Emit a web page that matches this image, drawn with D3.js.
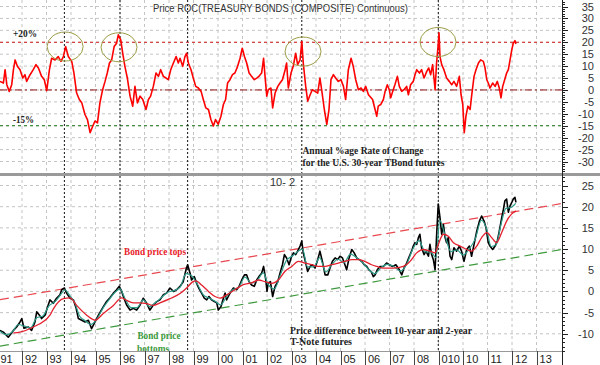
<!DOCTYPE html>
<html>
<head>
<meta charset="utf-8">
<script src="https://cdn.jsdelivr.net/npm/d3@7"></script>
<style>
  body { margin: 0; background: #fff; }
  svg { display: block; }
</style>
</head>
<body>
<div id="chart"></div>
<script>
// annual % rate of change, 30-year T-Bond futures  [year, %]
const rocData = [
  [1991.10, 3.6], [1991.24, 2.9], [1991.31, 8.5], [1991.38, 2.2], [1991.48, -0.6], [1991.58, 2.2],
  [1991.65, 8.5], [1991.72, 12.6], [1991.81, 9.9], [1991.92, 8.5], [1992.03, 5.0], [1992.12, 6.4],
  [1992.19, 3.6], [1992.33, 6.4], [1992.46, 8.5], [1992.57, 10.6], [1992.67, 9.2], [1992.80, 5.7],
  [1992.91, 4.3], [1993.01, -0.3], [1993.12, 8.5], [1993.21, 13.3], [1993.35, 12.6], [1993.48, 14.0],
  [1993.59, 12.0], [1993.69, 14.0], [1993.78, 18.2], [1993.89, 14.0], [1994.03, 12.0], [1994.12, 7.1],
  [1994.23, -1.3], [1994.34, -4.0], [1994.44, -5.4], [1994.57, -10.3], [1994.67, -12.4], [1994.78, -17.9],
  [1994.89, -15.1], [1994.98, -13.0], [1995.08, -13.8], [1995.18, -5.4], [1995.29, 0.1], [1995.39, 3.6],
  [1995.48, 7.1], [1995.57, 11.3], [1995.66, 12.6], [1995.76, 18.2], [1995.86, 19.6], [1995.93, 23.1],
  [1996.03, 21.0], [1996.11, 15.4], [1996.20, 9.9], [1996.30, 5.0], [1996.41, -2.6], [1996.52, -6.8],
  [1996.61, 1.5], [1996.71, -5.4], [1996.82, -2.6], [1996.93, -4.0], [1997.06, -8.2], [1997.16, -4.0],
  [1997.25, -2.6], [1997.36, 1.5], [1997.47, 7.1], [1997.57, 5.7], [1997.66, 8.5], [1997.77, 5.7],
  [1997.88, 5.0], [1997.97, 4.3], [1998.07, 8.5], [1998.18, 11.3], [1998.29, 14.0], [1998.38, 11.3],
  [1998.45, 13.3], [1998.56, 9.9], [1998.65, 14.0], [1998.72, 15.4], [1998.79, 11.3], [1998.90, 8.5],
  [1998.99, 5.0], [1999.09, 1.5], [1999.20, 0.8], [1999.31, -0.6], [1999.40, -4.0], [1999.50, -7.5],
  [1999.61, -8.2], [1999.71, -12.4], [1999.81, -15.1], [1999.90, -12.4], [2000.01, -14.4], [2000.12, -11.0],
  [2000.22, -6.1], [2000.31, -4.0], [2000.39, 2.9], [2000.49, 4.3], [2000.59, 6.4], [2000.69, 7.1],
  [2000.80, 9.9], [2000.90, 13.3], [2000.99, 17.5], [2001.08, 14.0], [2001.17, 11.3], [2001.27, 7.1],
  [2001.37, 5.7], [2001.48, 4.3], [2001.58, 5.0], [2001.67, 5.7], [2001.78, 7.1], [2001.86, 13.3],
  [2001.92, 5.7], [2001.99, -2.6], [2002.05, 0.1], [2002.16, 0.8], [2002.23, -7.5], [2002.33, -1.3],
  [2002.44, 1.5], [2002.53, 2.9], [2002.63, 4.3], [2002.74, 8.5], [2002.80, 11.3], [2002.87, 0.8],
  [2002.98, 7.1], [2003.07, 9.9], [2003.17, 15.4], [2003.25, 10.6], [2003.35, 12.6], [2003.42, 20.3],
  [2003.48, 11.3], [2003.58, 1.5], [2003.66, -4.7], [2003.76, -2.0], [2003.85, 0.1], [2003.96, -0.6],
  [2004.07, -1.3], [2004.16, 5.0], [2004.23, 0.1], [2004.34, -8.2], [2004.44, -14.4], [2004.53, -8.2],
  [2004.61, 4.3], [2004.71, 6.4], [2004.80, 5.0], [2004.91, 3.6], [2005.02, 4.3], [2005.12, 1.5],
  [2005.21, -4.0], [2005.32, 8.5], [2005.43, 13.3], [2005.52, 9.9], [2005.62, 4.3], [2005.73, 0.1],
  [2005.84, 0.8], [2005.93, -0.6], [2006.03, 1.5], [2006.14, -2.0], [2006.31, -4.0], [2006.41, -8.2],
  [2006.48, -11.0], [2006.54, -6.8], [2006.64, -6.1], [2006.75, -4.0], [2006.82, -0.6], [2006.91, 2.2],
  [2006.99, 0.1], [2007.05, -3.3], [2007.13, -0.6], [2007.22, 2.2], [2007.32, 5.7], [2007.40, 1.5],
  [2007.50, -0.6], [2007.59, 0.1], [2007.70, 1.5], [2007.77, -2.0], [2007.86, 2.2], [2007.97, 3.6],
  [2008.04, 6.4], [2008.11, 8.5], [2008.22, 7.1], [2008.31, 8.5], [2008.41, 5.0], [2008.52, 7.8],
  [2008.60, 9.2], [2008.68, 6.4], [2008.76, 10.6], [2008.86, 0.1], [2008.92, 11.3], [2008.98, 18.2],
  [2009.02, 24.0], [2009.06, 14.0], [2009.13, 10.6], [2009.22, 8.5], [2009.33, 5.0], [2009.44, 3.6],
  [2009.54, 2.2], [2009.63, 3.6], [2009.74, 1.5], [2009.85, 5.7], [2009.92, -2.0], [2009.99, -6.1],
  [2010.05, -17.9], [2010.12, -11.0], [2010.20, -6.8], [2010.29, -8.2], [2010.35, -2.6], [2010.45, 5.7],
  [2010.53, 8.5], [2010.63, 11.3], [2010.72, 12.6], [2010.83, 12.0], [2010.90, 9.2], [2010.97, 4.3],
  [2011.03, 2.9], [2011.10, 0.8], [2011.21, 2.9], [2011.31, 1.5], [2011.40, 3.6], [2011.48, 0.8],
  [2011.55, -3.3], [2011.62, 1.5], [2011.70, 4.3], [2011.78, 7.1], [2011.85, 8.5], [2011.92, 12.6],
  [2011.99, 16.8], [2012.05, 19.6], [2012.12, 20.7], [2012.16, 19.3]
];

// 10-year minus 2-year T-Note futures price difference  [year, points]
const spreadData = [
  [1991.10, -9.2], [1991.24, -9.6], [1991.44, -10.8], [1991.65, -9.2], [1991.78, -8.4], [1991.92, -7.2],
  [1991.99, -6.4], [1992.08, -8.7], [1992.26, -8.4], [1992.39, -9.2], [1992.53, -7.2], [1992.60, -4.8],
  [1992.71, -5.6], [1992.80, -6.4], [1992.94, -5.6], [1993.07, -3.2], [1993.14, -2.0], [1993.28, -2.8],
  [1993.41, -1.6], [1993.55, -0.8], [1993.62, 0.4], [1993.73, 0.8], [1993.82, -0.4], [1993.96, -1.6],
  [1994.10, -2.0], [1994.21, -4.0], [1994.30, -6.4], [1994.44, -6.8], [1994.57, -7.2], [1994.71, -6.8],
  [1994.84, -8.8], [1994.98, -7.2], [1995.12, -5.6], [1995.32, -3.6], [1995.46, -2.3], [1995.59, -1.5],
  [1995.73, -0.4], [1995.86, 0.4], [1995.97, 1.2], [1996.07, 0.0], [1996.16, -1.6], [1996.27, -3.2],
  [1996.41, -4.4], [1996.54, -4.0], [1996.68, -4.4], [1996.82, -3.2], [1996.95, -1.6], [1997.09, -2.8],
  [1997.22, -4.4], [1997.36, -3.2], [1997.50, -2.4], [1997.63, -2.0], [1997.77, -0.8], [1997.90, -0.4],
  [1998.04, 0.8], [1998.18, 0.0], [1998.31, 0.4], [1998.45, 1.2], [1998.58, 2.3], [1998.70, 5.3],
  [1998.76, 6.3], [1998.86, 4.3], [1998.92, 2.7], [1999.03, 3.5], [1999.13, 1.9], [1999.22, 0.7],
  [1999.33, -0.4], [1999.44, -1.6], [1999.54, -2.0], [1999.63, -1.2], [1999.74, -2.0], [1999.85, -2.4],
  [1999.95, -2.7], [2000.01, -4.4], [2000.12, -3.6], [2000.22, -1.6], [2000.29, -0.4], [2000.35, -2.0],
  [2000.42, -1.2], [2000.53, 0.0], [2000.63, 0.8], [2000.76, 0.4], [2000.86, 1.2], [2000.97, 2.7],
  [2001.08, 3.9], [2001.17, 3.9], [2001.27, 2.3], [2001.37, 1.5], [2001.48, 1.2], [2001.58, 2.7],
  [2001.67, 3.5], [2001.78, 4.3], [2001.86, 5.9], [2001.95, 2.7], [2002.00, 0.0], [2002.05, 2.0],
  [2002.14, 2.3], [2002.23, -1.2], [2002.33, 1.2], [2002.44, 2.3], [2002.53, 4.3], [2002.63, 6.3],
  [2002.71, 8.7], [2002.80, 7.9], [2002.90, 6.3], [2002.98, 7.9], [2003.08, 9.1], [2003.17, 8.7],
  [2003.25, 9.5], [2003.35, 10.7], [2003.42, 11.9], [2003.48, 9.1], [2003.58, 6.7], [2003.66, 4.7],
  [2003.76, 5.9], [2003.85, 6.3], [2003.96, 5.5], [2004.07, 7.5], [2004.16, 9.5], [2004.26, 7.1],
  [2004.37, 3.9], [2004.48, 3.9], [2004.57, 5.5], [2004.67, 7.1], [2004.78, 7.9], [2004.88, 7.5],
  [2004.98, 8.3], [2005.08, 7.9], [2005.18, 6.3], [2005.25, 5.1], [2005.35, 7.9], [2005.46, 9.9],
  [2005.56, 9.1], [2005.66, 7.9], [2005.76, 7.5], [2005.86, 7.1], [2005.97, 6.3], [2006.07, 5.9],
  [2006.16, 5.1], [2006.25, 4.7], [2006.34, 3.5], [2006.41, 3.9], [2006.50, 5.1], [2006.61, 5.9],
  [2006.75, 5.9], [2006.88, 6.7], [2006.99, 6.3], [2007.13, 5.9], [2007.26, 6.3], [2007.40, 5.1],
  [2007.50, 3.9], [2007.59, 5.5], [2007.70, 6.7], [2007.81, 8.3], [2007.90, 9.5], [2007.97, 10.7],
  [2008.04, 11.5], [2008.11, 11.1], [2008.18, 12.7], [2008.24, 13.5], [2008.31, 10.3], [2008.41, 8.7],
  [2008.49, 9.5], [2008.59, 8.3], [2008.65, 11.1], [2008.72, 8.7], [2008.79, 7.5], [2008.86, 5.1],
  [2008.93, 14.2], [2008.99, 20.6], [2009.06, 17.4], [2009.13, 13.5], [2009.20, 15.8], [2009.27, 12.7],
  [2009.33, 11.5], [2009.40, 12.7], [2009.47, 8.3], [2009.54, 7.5], [2009.63, 10.3], [2009.74, 9.5],
  [2009.85, 10.7], [2009.94, 9.5], [2010.04, 7.1], [2010.15, 9.9], [2010.26, 10.7], [2010.35, 8.3],
  [2010.45, 11.1], [2010.56, 14.2], [2010.67, 16.6], [2010.76, 17.8], [2010.86, 16.6], [2010.94, 15.0],
  [2011.03, 11.5], [2011.10, 10.7], [2011.21, 9.9], [2011.31, 10.7], [2011.40, 11.9], [2011.48, 14.2],
  [2011.58, 17.4], [2011.65, 19.4], [2011.71, 21.4], [2011.78, 21.8], [2011.85, 18.7], [2011.92, 20.2],
  [2011.99, 21.0], [2012.05, 21.8], [2012.12, 22.2], [2012.16, 21.0]
];

// short moving average (teal)
const fastAvg = [
  [1991.10, -9.4], [1991.35, -10.2], [1991.60, -9.6], [1991.85, -7.8], [1992.10, -8.2], [1992.35, -8.6],
  [1992.60, -6.2], [1992.85, -5.8], [1993.10, -3.4], [1993.35, -2.4], [1993.60, -0.6], [1993.75, 0.4],
  [1993.95, -1.0], [1994.15, -2.6], [1994.35, -5.8], [1994.55, -6.8], [1994.80, -7.8], [1995.05, -6.6],
  [1995.30, -4.0], [1995.55, -2.0], [1995.80, -0.2], [1996.00, 0.6], [1996.20, -1.6], [1996.45, -3.8],
  [1996.70, -3.8], [1996.95, -2.0], [1997.20, -3.6], [1997.45, -2.6], [1997.70, -1.4], [1997.95, -0.2],
  [1998.20, 0.2], [1998.45, 1.0], [1998.70, 4.2], [1998.90, 3.8], [1999.15, 1.8], [1999.40, -0.8],
  [1999.65, -1.6], [1999.90, -2.4], [2000.10, -3.2], [2000.35, -1.2], [2000.60, 0.4], [2000.85, 1.0],
  [2001.10, 3.4], [2001.35, 2.0], [2001.60, 2.6], [2001.85, 4.4], [2002.05, 1.6], [2002.30, 0.6],
  [2002.55, 4.0], [2002.80, 7.4], [2003.05, 8.4], [2003.30, 9.6], [2003.45, 10.0], [2003.65, 5.8],
  [2003.90, 5.8], [2004.15, 8.0], [2004.40, 4.6], [2004.65, 6.4], [2004.90, 7.6], [2005.15, 6.8],
  [2005.40, 8.8], [2005.65, 8.0], [2005.90, 6.8], [2006.15, 5.2], [2006.40, 4.2], [2006.65, 5.6],
  [2006.90, 6.4], [2007.15, 6.0], [2007.45, 4.8], [2007.70, 6.4], [2007.95, 10.0], [2008.20, 12.0],
  [2008.45, 9.4], [2008.70, 9.2], [2008.90, 8.0], [2009.05, 16.8], [2009.25, 13.6], [2009.50, 9.4],
  [2009.75, 9.8], [2010.00, 8.6], [2010.25, 10.0], [2010.50, 12.4], [2010.75, 16.8], [2010.95, 15.0],
  [2011.15, 10.6], [2011.35, 11.0], [2011.55, 15.8], [2011.75, 19.6], [2011.95, 19.8], [2012.15, 20.8]
];

// long moving average (red)
const slowAvg = [
  [1991.65, -9.8], [1991.92, -9.6], [1992.46, -8.4], [1993.14, -5.6], [1993.28, -4.1], [1993.69, -1.7],
  [1993.96, -1.5], [1994.23, -3.3], [1994.64, -5.6], [1994.98, -6.8], [1995.32, -5.2], [1995.73, -3.3],
  [1996.07, -1.5], [1996.27, -2.1], [1996.54, -2.7], [1996.82, -2.7], [1997.09, -2.9], [1997.36, -3.3],
  [1997.63, -2.7], [1998.04, -1.7], [1998.45, -0.5], [1998.72, 0.8], [1998.95, 2.2], [1999.10, 2.5],
  [1999.33, 1.5], [1999.61, 0.0], [1999.88, -1.2], [2000.08, -1.6], [2000.35, -0.8], [2000.69, 0.4],
  [2001.03, 1.6], [2001.37, 2.0], [2001.65, 2.7], [2001.92, 2.3], [2002.19, 1.9], [2002.46, 2.7],
  [2002.73, 4.7], [2003.01, 5.9], [2003.28, 7.1], [2003.55, 6.7], [2003.82, 6.3], [2004.10, 5.9],
  [2004.37, 5.9], [2004.64, 6.3], [2004.91, 6.7], [2005.18, 7.1], [2005.46, 7.5], [2005.73, 7.5],
  [2005.99, 7.1], [2006.27, 6.3], [2006.48, 5.9], [2006.75, 5.5], [2007.16, 5.5], [2007.56, 5.9],
  [2007.84, 7.1], [2008.11, 9.1], [2008.38, 9.9], [2008.65, 9.5], [2008.86, 9.1], [2008.99, 11.1],
  [2009.20, 13.5], [2009.40, 13.0], [2009.61, 11.5], [2009.88, 10.7], [2010.15, 9.9], [2010.35, 9.5],
  [2010.56, 10.7], [2010.76, 12.7], [2010.97, 13.9], [2011.17, 12.7], [2011.37, 11.5], [2011.58, 13.9],
  [2011.78, 16.6], [2011.99, 18.3], [2012.16, 19.0]
];

// channel lines drawn on the spread panel
const topsLine = [[1991.10, -1.95], [2014.04, 20.75]];
const bottomsLine = [[1991.10, -12.9], [2014.04, 9.9]];

// ROC reference levels
const rocLevels = [20, 0, -15];

// dotted event markers and circled ROC peaks
const eventYears = [1993.73, 1996.0, 1998.76, 2003.42, 2008.99];
const peakYears = [1993.76, 1995.96, 2003.47, 2008.98];
const peakValues = [18.2, 17.9, 16.1, 20.1];

// axis labels
const yearTicks = [1991, 1992, 1993, 1994, 1995, 1996, 1997, 1998, 1999, 2000, 2001, 2002,
  2003, 2004, 2005, 2006, 2007, 2008, 2009, 2010, 2011, 2012, 2013];
const yearLabels = ['91', '92', '93', '94', '95', '96', '97', '98', '99', '00', '01', '02',
  '03', '04', '05', '06', '07', '08', '010', '10', '11', '12', '13'];
const rocTicks = [35, 30, 25, 20, 15, 10, 5, 0, -5, -10, -15, -20, -25, -30];
const spreadTicks = [25, 20, 15, 10, 5, 0, -5, -10];

const width = 600;
const height = 365;
const plotRight = 562;
const topPanel = [0, 173];
const botPanel = [176, 351];

const x = d3.scaleLinear().domain([1991.102, 2014.04]).range([0, plotRight]);
const yTop = d3.scaleLinear().domain([-30, 35]).range([161.5, 6.5]);
const yBot = d3.scaleLinear().domain([-10, 25]).range([333.8, 185.5]);

const svg = d3.select('#chart')
  .append('svg')
  .attr('width', width)
  .attr('height', height)
  .style('font-family', '"Liberation Sans", Arial, sans-serif');

svg.append('rect').attr('width', width).attr('height', height).attr('fill', '#fff');

const defs = svg.append('defs');
defs.append('clipPath').attr('id', 'clipTop')
  .append('rect').attr('x', 0).attr('y', topPanel[0])
  .attr('width', plotRight).attr('height', topPanel[1] - topPanel[0]);
defs.append('clipPath').attr('id', 'clipBot')
  .append('rect').attr('x', 0).attr('y', botPanel[0])
  .attr('width', plotRight).attr('height', botPanel[1] - botPanel[0]);

const gridColor = '#c4c4c4';

// vertical year grid
svg.append('g')
  .selectAll('line')
  .data(yearTicks.slice(1))
  .enter()
  .append('line')
  .attr('x1', d => x(d)).attr('x2', d => x(d))
  .attr('y1', 0).attr('y2', botPanel[1])
  .attr('stroke', gridColor)
  .attr('stroke-dasharray', '3,3');

// horizontal grids
svg.append('g')
  .selectAll('line')
  .data(rocTicks)
  .enter()
  .append('line')
  .attr('x1', 0).attr('x2', plotRight)
  .attr('y1', d => yTop(d)).attr('y2', d => yTop(d))
  .attr('stroke', gridColor)
  .attr('stroke-dasharray', '3,3');

svg.append('g')
  .selectAll('line')
  .data(spreadTicks)
  .enter()
  .append('line')
  .attr('x1', 0).attr('x2', plotRight)
  .attr('y1', d => yBot(d)).attr('y2', d => yBot(d))
  .attr('stroke', gridColor)
  .attr('stroke-dasharray', '3,3');

// ROC reference levels
const levelStyles = [
  { color: '#d42020', dash: '3,3' },
  { color: '#8b1010', dash: '7,3,2,3' },
  { color: '#1f7a1f', dash: '3,3' }
];
svg.append('g')
  .selectAll('line')
  .data(rocLevels)
  .enter()
  .append('line')
  .attr('x1', 0).attr('x2', plotRight)
  .attr('y1', d => yTop(d)).attr('y2', d => yTop(d))
  .attr('stroke', (d, i) => levelStyles[i].color)
  .attr('stroke-dasharray', (d, i) => levelStyles[i].dash);

// event markers
svg.append('g')
  .selectAll('line')
  .data(eventYears)
  .enter()
  .append('line')
  .attr('x1', d => x(d)).attr('x2', d => x(d))
  .attr('y1', 0).attr('y2', botPanel[1])
  .attr('stroke', '#111')
  .attr('stroke-dasharray', '2,2');

// line generators
const lineBot = d3.line().x(d => x(d[0])).y(d => yBot(d[1]));
const smoothBot = d3.line().x(d => x(d[0])).y(d => yBot(d[1])).curve(d3.curveMonotoneX);
const lineTop = d3.line().x(d => x(d[0])).y(d => yTop(d[1]));

const botG = svg.append('g').attr('clip-path', 'url(#clipBot)');

// channel lines
botG.append('path').datum(topsLine)
  .attr('d', lineBot).attr('fill', 'none')
  .attr('stroke', '#e8484f').attr('stroke-width', 1.2)
  .attr('stroke-dasharray', '9,5');
botG.append('path').datum(bottomsLine)
  .attr('d', lineBot).attr('fill', 'none')
  .attr('stroke', '#3f9a3f').attr('stroke-width', 1.2)
  .attr('stroke-dasharray', '9,5');

// spread and its averages
botG.append('path').datum(spreadData)
  .attr('d', lineBot).attr('fill', 'none')
  .attr('stroke', '#000').attr('stroke-width', 1.6)
  .attr('stroke-linejoin', 'round');
botG.append('path').datum(fastAvg)
  .attr('d', smoothBot).attr('fill', 'none')
  .attr('stroke', '#2f9c8c').attr('stroke-width', 1.2);
botG.append('path').datum(slowAvg)
  .attr('d', smoothBot).attr('fill', 'none')
  .attr('stroke', '#e3202e').attr('stroke-width', 1.3);

// ROC line
const topG = svg.append('g').attr('clip-path', 'url(#clipTop)');
topG.append('path').datum(rocData)
  .attr('d', lineTop).attr('fill', 'none')
  .attr('stroke', '#ff0000').attr('stroke-width', 1.6)
  .attr('stroke-linejoin', 'round');

// circled peaks
topG.selectAll('ellipse')
  .data(peakYears)
  .enter()
  .append('ellipse')
  .attr('cx', d => x(d))
  .attr('cy', (d, i) => yTop(peakValues[i]))
  .attr('rx', 18).attr('ry', 14.5)
  .attr('fill', 'none')
  .attr('stroke', '#9b9b45')
  .attr('stroke-width', 1);

// annotations
const serif = '"Liberation Serif", "Times New Roman", serif';
function note(text, px, py, color, len) {
  svg.append('text')
    .attr('x', px).attr('y', py)
    .attr('font-family', serif)
    .attr('font-weight', 'bold')
    .attr('font-size', 11)
    .attr('fill', color)
    .attr('textLength', len)
    .attr('lengthAdjust', 'spacingAndGlyphs')
    .text(text);
}
note('+20%', 13, 37, '#222', 24);
note('-15%', 13, 123, '#222', 21);
note('Annual %age Rate of Change', 302.5, 154, '#222', 121);
note('for the U.S. 30-year TBond futures', 302.5, 165.5, '#222', 142);
note('Bond price tops', 124, 255, '#e8202a', 62);
note('Bond price', 137.5, 339, '#3a9a3a', 43);
note('bottoms', 137, 351.5, '#3a9a3a', 32);
note('Price difference between 10-year and 2-year', 290, 334, '#222', 182);
note('T-Note futures', 290, 344.5, '#222', 62);

svg.append('text')
  .attr('x', 153).attr('y', 12)
  .attr('font-size', 11.5)
  .attr('fill', '#333')
  .attr('textLength', 255)
  .attr('lengthAdjust', 'spacingAndGlyphs')
  .text('Price ROC(TREASURY BONDS (COMPOSITE) Continuous)');

svg.append('text')
  .attr('x', 270).attr('y', 185.5)
  .attr('font-size', 11)
  .attr('fill', '#333')
  .text('10- 2');

// x axis band
svg.append('rect')
  .attr('x', 0).attr('y', botPanel[1])
  .attr('width', width).attr('height', height - botPanel[1])
  .attr('fill', '#fff');
svg.append('line')
  .attr('x1', 0).attr('x2', plotRight)
  .attr('y1', botPanel[1] + 0.5).attr('y2', botPanel[1] + 0.5)
  .attr('stroke', '#999');

const xa = svg.append('g');
xa.selectAll('line')
  .data(yearTicks.slice(1))
  .enter()
  .append('line')
  .attr('x1', d => Math.round(x(d)) + 0.5).attr('x2', d => Math.round(x(d)) + 0.5)
  .attr('y1', botPanel[1]).attr('y2', height)
  .attr('stroke', '#444');
xa.selectAll('text')
  .data(yearTicks)
  .enter()
  .append('text')
  .attr('x', d => Math.max(0, x(d) + 3))
  .attr('y', 363)
  .attr('font-size', 11)
  .attr('fill', '#222')
  .text((d, i) => yearLabels[i]);

// panel separator
svg.append('rect')
  .attr('x', 0).attr('y', topPanel[1])
  .attr('width', width).attr('height', botPanel[0] - topPanel[1])
  .attr('fill', '#9a9a9a');

// right axis
svg.append('line')
  .attr('x1', plotRight + 0.5).attr('x2', plotRight + 0.5)
  .attr('y1', 0).attr('y2', height)
  .attr('stroke', '#222');

const rocMinor = d3.range(-34, 38);
svg.append('g')
  .selectAll('line')
  .data(rocMinor)
  .enter()
  .append('line')
  .attr('x1', plotRight).attr('x2', d => plotRight + (d % 5 === 0 ? 6 : 3))
  .attr('y1', d => Math.round(yTop(d)) + 0.5).attr('y2', d => Math.round(yTop(d)) + 0.5)
  .attr('stroke', '#222');

const botMinor = d3.range(-14, 28);
svg.append('g')
  .selectAll('line')
  .data(botMinor)
  .enter()
  .append('line')
  .attr('x1', plotRight).attr('x2', d => plotRight + (d % 5 === 0 ? 6 : 3))
  .attr('y1', d => Math.round(yBot(d)) + 0.5).attr('y2', d => Math.round(yBot(d)) + 0.5)
  .attr('stroke', '#222');

svg.append('g')
  .selectAll('text')
  .data(rocTicks)
  .enter()
  .append('text')
  .attr('x', 594)
  .attr('y', d => yTop(d) + 4)
  .attr('text-anchor', 'end')
  .attr('font-size', 11)
  .attr('fill', '#333')
  .text(d => d);

svg.append('g')
  .selectAll('text')
  .data(spreadTicks)
  .enter()
  .append('text')
  .attr('x', 594)
  .attr('y', d => yBot(d) + 4)
  .attr('text-anchor', 'end')
  .attr('font-size', 11)
  .attr('fill', '#333')
  .text(d => d);
</script>
</body>
</html>
